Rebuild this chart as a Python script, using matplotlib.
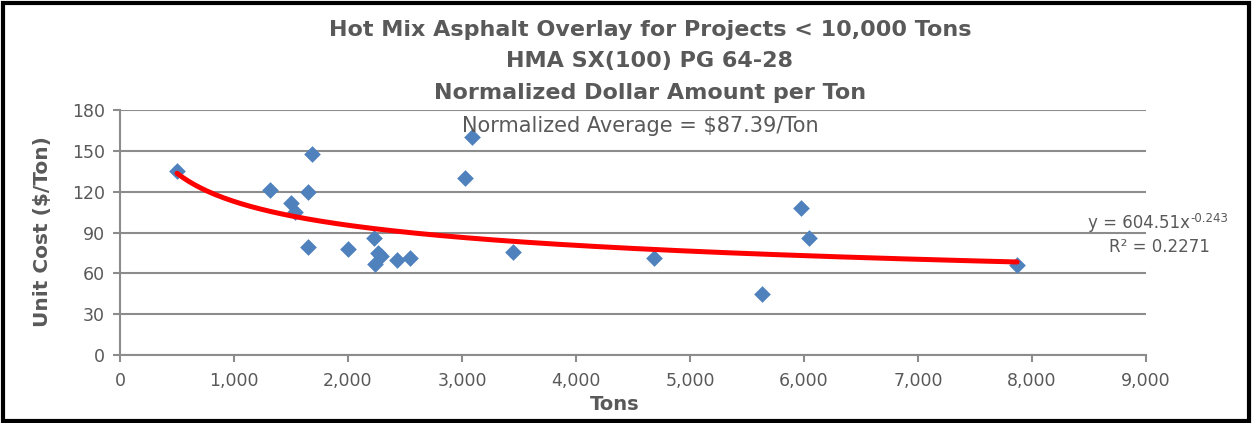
import matplotlib
matplotlib.use("Agg")
import matplotlib.pyplot as plt
import numpy as np
from matplotlib.patches import Rectangle
from matplotlib.ticker import FuncFormatter

# project tonnage vs normalized unit cost
tons = [500, 1320, 1685, 1645, 1500, 1535, 1645, 2000, 2230, 2265, 2290,
        2240, 2430, 2545, 3090, 3030, 3445, 4680, 5975, 6040, 5635, 7870]
cost = [135, 121, 148, 120, 112, 105, 79, 78, 86, 75, 73,
        67, 70, 71, 160, 130, 76, 71, 108, 86, 45, 66]

# power trend y = a * x^b
coef_a = 604.51
coef_b = -0.243
r2 = 0.2271
avg = 87.39

title_lines = ["Hot Mix Asphalt Overlay for Projects < 10,000 Tons",
               "HMA SX(100) PG 64-28",
               "Normalized Dollar Amount per Ton"]

gris = '#595959'
grid_col = '#8c8c8c'
W, H = 1253, 423

fig = plt.figure(figsize=(W / 100, H / 100), dpi=100)
ax = fig.add_axes([120 / W, 1 - 355 / H, 1026 / W, 245 / H])

ax.scatter(tons, cost, marker='D', s=8.5**2, color='#4f81bd', zorder=3, linewidths=0)

xt = np.linspace(min(tons), max(tons), 300)
ax.plot(xt, coef_a * xt**coef_b, color='#ff0000', lw=3.6, zorder=4, solid_capstyle='round')

ax.set_xlim(0, 9000)
ax.set_ylim(0, 180)
ax.set_xticks(np.arange(0, 9001, 1000))
ax.set_yticks(np.arange(0, 181, 30))
ax.xaxis.set_major_formatter(FuncFormatter(lambda v, p: f'{int(v):,}'))
ax.grid(axis='y', color=grid_col, lw=1.5)
ax.set_axisbelow(True)
for s in ['top', 'right']:
    ax.spines[s].set_visible(False)
for s in ['left', 'bottom']:
    ax.spines[s].set_color(grid_col)
    ax.spines[s].set_linewidth(1.5)
ax.tick_params(colors=grid_col, labelcolor=gris, labelsize=12.5, length=5, width=1.5)
ax.tick_params(axis='x', pad=7)
ax.tick_params(axis='y', pad=6)

ax.set_xlabel('Tons', fontsize=14, fontweight='bold', color=gris)
ax.xaxis.set_label_coords((615 - 120) / 1026, -(395 - 355) / 245)
ax.set_ylabel('Unit Cost ($/Ton)', fontsize=14.5, fontweight='bold', color=gris)
ax.yaxis.set_label_coords(-(120 - 52) / 1026, (355 - 232) / 245)

for i, line in enumerate(title_lines):
    fig.text(650 / W, 1 - (30 + 31.5 * i) / H, line, ha='center', va='center',
             fontsize=16, fontweight='bold', color=gris)
fig.text(640 / W, 1 - 126 / H, f'Normalized Average = ${avg}/Ton', ha='center', va='center',
         fontsize=15, color=gris)

fig.text(1190 / W, 1 - 228 / H, f'y = {coef_a}x', ha='right', va='baseline', fontsize=12, color=gris)
fig.text(1190 / W, 1 - 212 / H, f'{coef_b}', ha='left', va='top', fontsize=8.5, color=gris)
fig.text(1210 / W, 1 - 247 / H, f'R² = {r2}', ha='right', va='center', fontsize=12, color=gris)

fig.patches.append(Rectangle((0.002, 0.004), 0.995, 0.99, transform=fig.transFigure,
                             fill=False, edgecolor='black', lw=3))

fig.savefig('out.png', dpi=100)
